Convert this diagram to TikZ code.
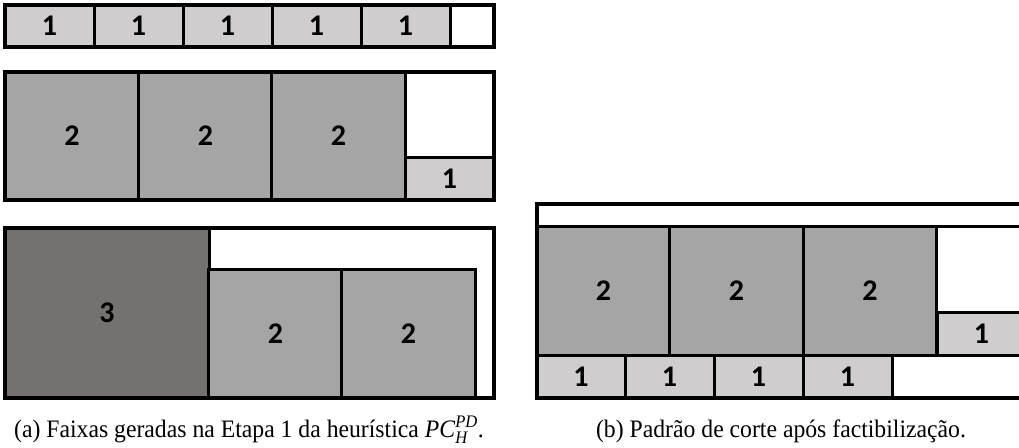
\documentclass[tikz,border=0pt]{standalone}
\usepackage{amsmath}
\usepackage{graphicx}
\usepackage{fontspec}
\setmainfont{Liberation Serif}
\newfontfamily\digitfont{Carlito}
\definecolor{lightp}{HTML}{CFCDCD}
\definecolor{midp}{HTML}{A5A5A5}
\definecolor{darkp}{HTML}{757170}
\begin{document}
\begin{tikzpicture}[x=1pt,y=-1pt,
  piece/.style={draw=black,line width=3pt,inner sep=0pt,font=\digitfont\bfseries\fontsize{30}{30}\selectfont},
  pone/.style={piece,fill=lightp,minimum width=89pt,minimum height=42.5pt},
  ptwo/.style={piece,fill=midp,minimum width=133.3pt,minimum height=129pt},
  pthree/.style={piece,fill=darkp,minimum width=204pt,minimum height=170pt},
  outer/.style={draw=black,line width=3.5pt},
  captext/.style={inner sep=0pt,anchor=base,font=\fontsize{23.7}{26}\selectfont}]
\useasboundingbox (0,0) rectangle (1019,447);
\begin{scope}
\clip (0,0) rectangle (1019,447);
% (a) row 1
\node[pone] (a11) at (49.5,26) {1};
\node[pone] (a12) at (138.5,26) {1};
\node[pone] (a13) at (227.5,26) {1};
\node[pone] (a14) at (316.5,26) {1};
\node[pone] (a15) at (405.5,26) {1};
\draw[outer] (5,5) rectangle (494,47);
% (a) row 2
\node[ptwo,minimum height=128pt] (a21) at (72,136) {2};
\node[ptwo,minimum height=128pt] (a22) at (205.5,136) {2};
\node[ptwo,minimum height=128pt] (a23) at (338.5,136) {2};
\node[pone,minimum height=43pt] (a24) at (449.5,178.5) {1};
\draw[outer] (5,72) rectangle (494,200);
% (a) row 3
\node[pthree] (a31) at (107,313) {3};
\node[ptwo] (a32) at (275.5,333.5) {2};
\node[ptwo] (a33) at (408.5,333.5) {2};
\draw[outer] (5,228) rectangle (494,398);
% (b)
\node[ptwo] (b1) at (603.5,290.5) {2};
\node[ptwo] (b2) at (736.5,290.5) {2};
\node[ptwo] (b3) at (870,290.5) {2};
\node[pone,minimum height=43pt] (b4) at (981.5,333.5) {1};
\node[pone,minimum height=43pt,minimum width=88pt] (b5) at (581,376.5) {1};
\node[pone,minimum height=43pt] (b6) at (669.5,376.5) {1};
\node[pone,minimum height=43pt] (b7) at (758.5,376.5) {1};
\node[pone,minimum height=43pt] (b8) at (847.5,376.5) {1};
\draw[line width=3pt] (537,226) -- (1026,226);
\draw[outer] (537,204) rectangle (1026,398);
\end{scope}
% captions
\node[captext] (capa) at (249,437) {\scalebox{1}[1.06]{(a) Faixas geradas na Etapa 1 da heurística \textit{PC}$^{\text{\itshape PD}}_{\text{\itshape H}}$.}};
\node[captext] (capb) at (781,437) {\scalebox{1}[1.06]{(b) Padrão de corte após factibilização.}};
\end{tikzpicture}
\end{document}
